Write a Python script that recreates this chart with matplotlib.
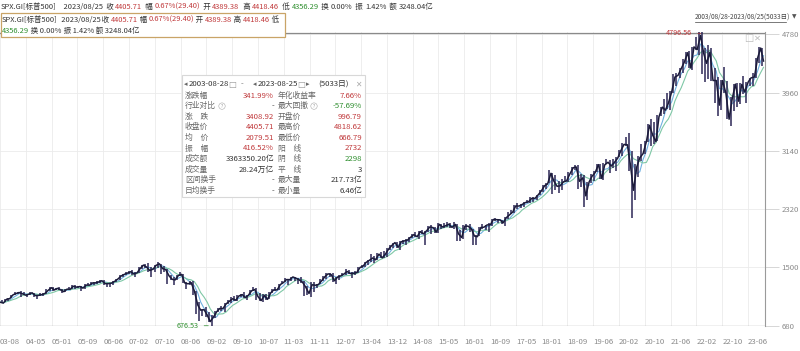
import numpy as np
import pandas as pd
import matplotlib
matplotlib.use('Agg')
import matplotlib.pyplot as plt
from matplotlib.patches import Rectangle

plt.rcParams['font.family'] = ['Noto Sans CJK SC', 'DejaVu Sans']

# monthly close / high / low, 2003-08 .. 2023-08
close = [1008, 996, 1051, 1058, 1112,
         1131, 1145, 1126, 1107, 1121, 1141, 1102, 1104, 1115, 1130, 1174, 1212,
         1181, 1204, 1181, 1157, 1192, 1191, 1234, 1220, 1229, 1207, 1249, 1248,
         1280, 1281, 1295, 1311, 1270, 1270, 1277, 1304, 1336, 1378, 1401, 1418,
         1438, 1407, 1421, 1482, 1531, 1503, 1455, 1474, 1527, 1549, 1481, 1468,
         1379, 1331, 1323, 1386, 1400, 1280, 1267, 1283, 1166, 969, 896, 903,
         826, 735, 798, 873, 919, 919, 987, 1021, 1057, 1036, 1096, 1115,
         1074, 1104, 1169, 1187, 1089, 1031, 1102, 1049, 1141, 1183, 1181, 1258,
         1286, 1327, 1326, 1364, 1345, 1321, 1292, 1219, 1131, 1253, 1247, 1258,
         1312, 1366, 1408, 1398, 1310, 1362, 1379, 1407, 1441, 1412, 1416, 1426,
         1498, 1515, 1569, 1598, 1631, 1606, 1686, 1633, 1682, 1757, 1806, 1848,
         1783, 1859, 1872, 1884, 1924, 1960, 1931, 2003, 1972, 2018, 2068, 2059,
         1995, 2105, 2068, 2086, 2107, 2063, 2104, 1972, 1920, 2079, 2080, 2044,
         1940, 1932, 2060, 2065, 2097, 2099, 2174, 2171, 2168, 2126, 2199, 2239,
         2279, 2364, 2363, 2384, 2412, 2423, 2470, 2472, 2519, 2575, 2648, 2674,
         2824, 2714, 2641, 2648, 2705, 2718, 2816, 2902, 2914, 2712, 2760, 2507,
         2704, 2784, 2834, 2946, 2752, 2942, 2980, 2926, 2977, 3038, 3141, 3231,
         3226, 2954, 2585, 2912, 3044, 3100, 3271, 3500, 3363, 3270, 3622, 3756,
         3714, 3811, 3973, 4181, 4204, 4298, 4395, 4523, 4308, 4605, 4567, 4766,
         4516, 4374, 4530, 4132, 4132, 3785, 4130, 3955, 3586, 3872, 4080, 3840,
         4077, 3970, 4109, 4169, 4180, 4450, 4589, 4406]
high = [1011, 1040, 1054, 1063, 1112,
        1155, 1158, 1163, 1150, 1128, 1146, 1140, 1110, 1131, 1142, 1188, 1217,
        1217, 1212, 1229, 1191, 1199, 1219, 1246, 1245, 1243, 1233, 1270, 1276,
        1295, 1297, 1310, 1326, 1326, 1284, 1283, 1306, 1340, 1389, 1407, 1431,
        1441, 1461, 1438, 1498, 1535, 1540, 1556, 1503, 1538, 1576, 1545, 1523,
        1471, 1396, 1359, 1397, 1440, 1405, 1292, 1313, 1303, 1167, 1007, 918,
        943, 875, 832, 878, 930, 956, 996, 1040, 1080, 1101, 1113, 1130,
        1150, 1112, 1180, 1219, 1206, 1131, 1120, 1130, 1148, 1196, 1227, 1263,
        1303, 1344, 1332, 1366, 1370, 1346, 1357, 1307, 1230, 1293, 1292, 1269,
        1333, 1378, 1420, 1422, 1415, 1364, 1392, 1426, 1475, 1465, 1434, 1448,
        1504, 1530, 1570, 1598, 1687, 1654, 1698, 1710, 1730, 1775, 1814, 1849,
        1850, 1867, 1884, 1897, 1924, 1968, 1991, 2005, 2019, 2018, 2075, 2093,
        2064, 2119, 2117, 2125, 2134, 2129, 2132, 2113, 2021, 2094, 2116, 2104,
        2038, 1962, 2072, 2111, 2100, 2120, 2178, 2193, 2187, 2169, 2214, 2278,
        2301, 2371, 2400, 2398, 2419, 2454, 2484, 2491, 2519, 2582, 2657, 2694,
        2873, 2835, 2801, 2718, 2742, 2791, 2848, 2916, 2941, 2940, 2816, 2800,
        2708, 2813, 2860, 2949, 2954, 2964, 3028, 3014, 3022, 3050, 3154, 3248,
        3337, 3394, 3136, 2955, 3068, 3233, 3280, 3514, 3588, 3550, 3646, 3760,
        3870, 3950, 3982, 4218, 4238, 4302, 4430, 4537, 4546, 4608, 4743, 4808,
        4819, 4595, 4637, 4593, 4307, 4177, 4141, 4325, 4120, 3905, 4080, 4101,
        4095, 4195, 4111, 4170, 4231, 4449, 4608, 4584]
low = [997, 990, 1018, 1031, 1061,
       1106, 1124, 1088, 1106, 1076, 1113, 1078, 1060, 1102, 1091, 1128, 1173,
       1163, 1180, 1176, 1137, 1146, 1188, 1194, 1201, 1205, 1168, 1201, 1246,
       1245, 1253, 1268, 1280, 1245, 1219, 1224, 1253, 1290, 1327, 1360, 1385,
       1403, 1389, 1363, 1416, 1476, 1484, 1428, 1370, 1439, 1489, 1406, 1435,
       1270, 1316, 1257, 1324, 1373, 1272, 1200, 1247, 1106, 840, 741, 815,
       805, 735, 667, 783, 866, 888, 869, 978, 992, 1020, 1029, 1086,
       1071, 1044, 1105, 1170, 1040, 1028, 1011, 1040, 1049, 1131, 1173, 1186,
       1262, 1289, 1249, 1305, 1311, 1258, 1283, 1101, 1114, 1075, 1159, 1202,
       1258, 1310, 1340, 1358, 1291, 1267, 1325, 1372, 1397, 1403, 1343, 1398,
       1426, 1485, 1501, 1536, 1581, 1560, 1604, 1627, 1633, 1646, 1746, 1767,
       1770, 1737, 1834, 1814, 1859, 1915, 1930, 1905, 1964, 1820, 2001, 1972,
       1988, 1980, 2039, 2048, 2067, 2056, 2044, 1867, 1871, 1893, 2019, 1993,
       1812, 1810, 1937, 2033, 2025, 1992, 2075, 2147, 2119, 2114, 2084, 2187,
       2245, 2271, 2322, 2329, 2345, 2405, 2407, 2417, 2446, 2520, 2566, 2605,
       2682, 2533, 2586, 2553, 2594, 2698, 2699, 2796, 2864, 2603, 2631, 2347,
       2443, 2681, 2722, 2848, 2750, 2728, 2952, 2822, 2892, 2855, 3050, 3070,
       3214, 2855, 2192, 2447, 2766, 2999, 3101, 3260, 3210, 3234, 3279, 3633,
       3663, 3725, 3723, 3955, 4056, 4164, 4233, 4367, 4306, 4279, 4560, 4495,
       4223, 4115, 4157, 4124, 3811, 3637, 3721, 3955, 3585, 3491, 3699, 3764,
       3794, 3943, 3809, 4049, 4048, 4166, 4385, 4335]

first_day = '2003-08-28'
last_day = '2023-08-25'
n_days = 5033
peak_close, peak_day = 4796.56, '2022-01-03'
low_close, low_day = 676.53, '2009-03-09'

x_labels = ['03-08', '04-05', '05-01', '05-09', '06-06', '07-02', '07-10', '08-06',
            '09-02', '09-10', '10-07', '11-03', '11-11', '12-07', '13-04', '13-12',
            '14-08', '15-05', '16-01', '16-09', '17-05', '18-01', '18-09', '19-06',
            '20-02', '20-10', '21-06', '22-02', '22-10', '23-06']
tick_step = 170
y_ticks = [680, 1500, 2320, 3140, 3960, 4780]

left_names = ['涨跌幅', '行业对比', '涨　跌', '收盘价', '均　价', '振　幅', '成交额', '成交量', '区间换手', '日均换手']
left_vals = ['341.99%', '-', '3408.92', '4405.71', '2079.51', '416.52%', '3363350.20亿', '28.24万亿', '-', '-']
right_names = ['年化收益率', '最大回撤', '开盘价', '最高价', '最低价', '阳　线', '阴　线', '平　线', '最大量', '最小量']
right_vals = ['7.66%', '-57.69%', '996.79', '4818.62', '666.79', '2732', '2298', '3', '217.73亿', '6.46亿']

RED = '#c0393b'
GREEN = '#2f8f2f'
DARK = '#333333'
GREY = '#666666'
left_cols = [RED, DARK, RED, RED, RED, RED, DARK, DARK, DARK, DARK]
right_cols = [RED, GREEN, RED, RED, RED, RED, GREEN, DARK, DARK, DARK]

# trading-day positions of each month
start = np.datetime64(first_day)
end = np.datetime64(last_day)
months = pd.period_range('2003-08', '2023-08', freq='M')
m_end = np.array([min(np.datetime64(p.end_time.date()), end) for p in months])
idx = np.busday_count(start, m_end + np.timedelta64(1, 'D')) - 1
scale = (n_days - 1) / idx[-1]
end_x = idx * scale
left_x = np.r_[0, end_x[:-1]]
mid_x = (left_x + end_x) / 2
peak_x = np.busday_count(start, np.datetime64(peak_day)) * scale
low_x = np.busday_count(start, np.datetime64(low_day)) * scale

close = np.array(close, dtype=float)
high = np.array(high, dtype=float)
low = np.array(low, dtype=float)
ma1 = pd.Series(close).rolling(3, min_periods=1).mean()
ma2 = pd.Series(close).rolling(6, min_periods=1).mean()

W, H = 800, 351
fig = plt.figure(figsize=(8, 3.51), dpi=100)
ax = fig.add_axes([0, 1 - 326 / H, 765 / W, (326 - 32) / H])

ax.vlines(mid_x, low, high, color='#2c2756', lw=1.1, zorder=3)
ax.plot(end_x, close, color='#1b1b3a', lw=1.1, zorder=4)
ax.plot(end_x, ma1, color='#6fb0e0', lw=0.8, zorder=2)
ax.plot(end_x, ma2, color='#7ec8a6', lw=0.8, zorder=2)

ax.axhline(peak_close, color='#8a8a8a', lw=0.9, zorder=1)
ax.axhline(low_close, color='#8a8a8a', lw=0.9, zorder=1)
ax.annotate(f'{peak_close:.2f}', xy=(peak_x, peak_close), xytext=(-6, 0),
            textcoords='offset points', color=RED, fontsize=5.2, va='center', ha='right',
            arrowprops=dict(arrowstyle='-', color=RED, lw=0.5))
ax.annotate(f'{low_close:.2f}', xy=(low_x, low_close), xytext=(-9, 0),
            textcoords='offset points', color=GREEN, fontsize=5.2, va='center', ha='right',
            arrowprops=dict(arrowstyle='-', color=GREEN, lw=0.5))

ax.set_xlim(0, (n_days - 1) * 765 / 763.5)
ax.set_ylim(673, 4815)
ax.set_xticks(np.arange(len(x_labels)) * tick_step)
ax.set_xticklabels(x_labels, ha='left', fontsize=5.6, color='#8a8a8a')
ax.set_yticks(y_ticks)
ax.set_yticklabels([str(v) for v in y_ticks], fontsize=5.6, color='#8a8a8a')
ax.yaxis.tick_right()
ax.tick_params(axis='x', length=0, pad=9)
ax.tick_params(axis='y', length=10, color='#d0d0d0', width=0.6, pad=2)
ax.grid(color='#ebebeb', lw=0.6, zorder=0)
ax.set_axisbelow(True)
for s in ['top', 'bottom', 'left']:
    ax.spines[s].set_visible(False)
ax.spines['right'].set_color('#9a9a9a')

# overlay in pixel coordinates
ov = fig.add_axes([0, 0, 1, 1], zorder=5)
ov.set_xlim(0, W)
ov.set_ylim(H, 0)
ov.axis('off')
ov.patch.set_alpha(0)


def flow(x, y, segs, size=5.4):
    t = ov.text(x, y, segs[0][0], color=segs[0][1], fontsize=size, va='center', ha='left')
    for s, c in segs[1:]:
        t = ov.annotate(s, xy=(1, 0.5), xycoords=t, color=c, fontsize=size,
                        va='center', ha='left', annotation_clip=False)
    return t


head = [('SPX.GI[标普500]', DARK), ('    2023/08/25', DARK), ('  收 ', DARK), ('4405.71', RED),
        ('  幅 ', DARK), ('0.67%(29.40)', RED), ('  开 ', DARK), ('4389.38', RED),
        ('  高 ', DARK), ('4418.46', RED), ('  低 ', DARK), ('4356.29', GREEN),
        ('  换 ', DARK), ('0.00%', DARK), ('  振 ', DARK), ('1.42%', DARK),
        ('  额 ', DARK), ('3248.04亿', DARK)]
flow(1, 7, head)

ov.add_patch(Rectangle((0.5, 13), 284, 24, fc='white', ec='#c9a467', lw=0.9))
flow(2, 20, [('SPX.GI[标普500]', DARK), ('  2023/08/25', DARK), (' 收 ', DARK), ('4405.71', RED),
             (' 幅 ', DARK), ('0.67%(29.40)', RED), (' 开 ', DARK), ('4389.38', RED),
             (' 高 ', DARK), ('4418.46', RED), (' 低', DARK)])
flow(2, 31, [('4356.29', GREEN), (' 换 0.00%', DARK), (' 振 1.42%', DARK), (' 额 3248.04亿', DARK)])

ov.text(695, 17, '2003/08/28-2023/08/25(5033日)', fontsize=4.7, color='#444444', va='center')
ov.plot([695, 786], [21.5, 21.5], color='#444444', lw=0.5)
ov.text(792, 17, '▼', fontsize=4.2, color='#555555', va='center', family='DejaVu Sans')
ov.text(744, 38, '□', fontsize=7, color='#bbbbbb', va='center', family='DejaVu Sans')
ov.text(754, 38, '✕', fontsize=6, color='#bbbbbb', va='center', family='DejaVu Sans')

# statistics panel
ov.add_patch(Rectangle((182, 75), 183, 122, fc='white', ec='#d8d8d8', lw=0.8))
ov.text(184, 84, '◂', fontsize=5, color=GREY, va='center', family='DejaVu Sans')
ov.text(189, 84, '2003-08-28', fontsize=5.6, color=DARK, va='center')
ov.text(228, 84, '□', fontsize=6, color='#999999', va='center', family='DejaVu Sans')
ov.text(241, 84, '-', fontsize=5.6, color=GREY, va='center')
ov.text(253, 84, '◂', fontsize=5, color=GREY, va='center', family='DejaVu Sans')
ov.text(258, 84, '2023-08-25', fontsize=5.6, color=DARK, va='center')
ov.text(297, 84, '□', fontsize=6, color='#999999', va='center', family='DejaVu Sans')
ov.text(306, 84, '▸', fontsize=5, color=GREY, va='center', family='DejaVu Sans')
ov.text(318, 84, '(5033日)', fontsize=5.6, color=DARK, va='center')
ov.text(355, 84, '✕', fontsize=5.5, color='#aaaaaa', va='center', family='DejaVu Sans')
for i in range(len(left_names)):
    y = 95.5 + i * 10.6
    ov.text(185, y, left_names[i], fontsize=5.6, color=GREY, va='center')
    ov.text(274, y, left_vals[i], fontsize=5.6, color=left_cols[i], va='center', ha='right')
    ov.text(278, y, right_names[i], fontsize=5.6, color=GREY, va='center')
    ov.text(362, y, right_vals[i], fontsize=5.6, color=right_cols[i], va='center', ha='right')
for x0 in [222, 314]:
    ov.text(x0, 106.1, '?', fontsize=3.4, color='#999999', va='center', ha='center',
            bbox=dict(boxstyle='circle,pad=0.15', fc='none', ec='#aaaaaa', lw=0.4))

fig.savefig('out.png', dpi=100)
